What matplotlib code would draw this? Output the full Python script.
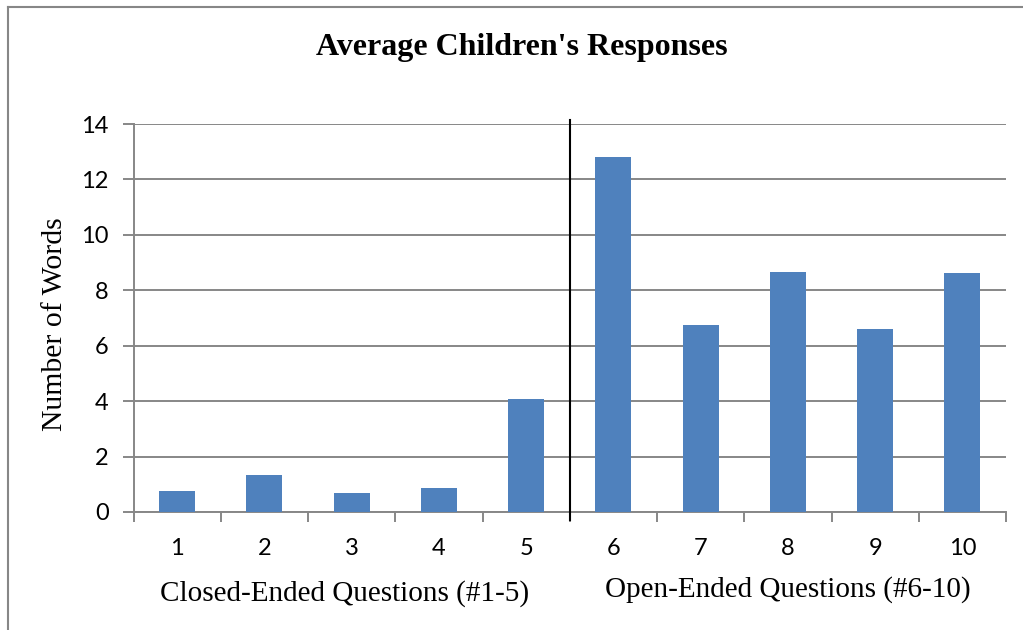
import matplotlib
matplotlib.use("Agg")
import matplotlib.pyplot as plt
from matplotlib.lines import Line2D

# Average number of words per question
questions = ["1", "2", "3", "4", "5", "6", "7", "8", "9", "10"]
avg_words = [0.77, 1.32, 0.69, 0.88, 4.06, 12.8, 6.76, 8.66, 6.6, 8.62]
y_ticks = [0, 2, 4, 6, 8, 10, 12, 14]
group_labels = ["Closed-Ended Questions (#1-5)", "Open-Ended Questions (#6-10)"]

W, H = 1023, 630
fig = plt.figure(figsize=(W / 100, H / 100), dpi=100)
fig.patch.set_facecolor("white")

left, right, top, bottom = 133.5, 1006, 124, 512
ax = fig.add_axes([left / W, 1 - bottom / H, (right - left) / W, (bottom - top) / H])

grey = "#878787"
serif = "Liberation Serif"
sans = "Lato"

x = list(range(1, len(questions) + 1))
ax.bar(x, avg_words, width=0.41, color="#4F81BD", zorder=3)

ax.set_xlim(0.5, 10.5)
ax.set_ylim(0, 14)
ax.set_yticks(y_ticks)
ax.set_yticklabels([str(t) for t in y_ticks], fontfamily=sans, fontsize=17)
ax.yaxis.grid(True, color=grey, linewidth=1.4, zorder=0)
ax.set_axisbelow(True)

# category labels centred under bars, tick marks between categories
ax.set_xticks([i + 0.5 for i in range(0, 11)])
ax.set_xticklabels([])
ax.set_xticks(x, minor=True)
ax.set_xticklabels(questions, minor=True, fontfamily=sans, fontsize=17)
ax.tick_params(axis="x", which="minor", length=0, pad=19)
ax.tick_params(axis="x", which="major", length=7, width=1.4, color=grey)
ax.tick_params(axis="y", length=8, width=1.4, color=grey, pad=10)

for s in ("top", "right"):
    ax.spines[s].set_visible(False)
for s in ("left", "bottom"):
    ax.spines[s].set_color(grey)
    ax.spines[s].set_linewidth(1.4)

# divider between closed- and open-ended questions
ax.plot([5.5, 5.5], [-0.29, 14.15], color="black", linewidth=1.5, clip_on=False, zorder=4)

# group labels below the category axis
ax.text(2.92, -2.93, group_labels[0], ha="center", va="center",
        fontfamily=serif, fontsize=21, transform=ax.transData, clip_on=False)
ax.text(8.0, -2.8, group_labels[1], ha="center", va="center",
        fontfamily=serif, fontsize=21, transform=ax.transData, clip_on=False)

fig.text(521.5 / W, 1 - 47 / H, "Average Children's Responses", ha="center", va="center",
         fontfamily=serif, fontweight="bold", fontsize=23)
fig.text(55 / W, 1 - 324 / H, "Number of Words", ha="center", va="center", rotation=90,
         fontfamily=serif, fontsize=21.4)

# chart frame
fig.add_artist(Line2D([8 / W, 8 / W], [0, 1 - 7 / H], color=grey, linewidth=1.5))
fig.add_artist(Line2D([8 / W, 1], [1 - 7 / H, 1 - 7 / H], color=grey, linewidth=1.5))

fig.savefig("out.png", dpi=100)
